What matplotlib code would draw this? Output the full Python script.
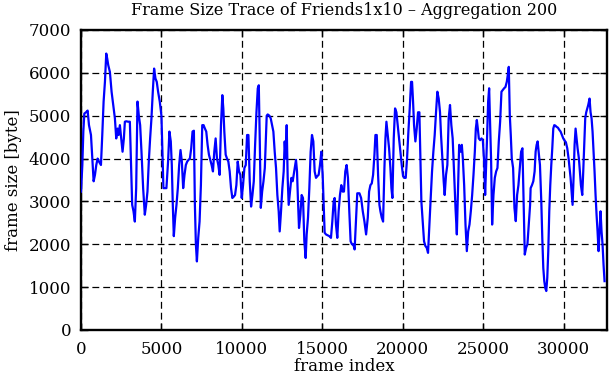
import matplotlib
matplotlib.use("Agg")
import matplotlib.pyplot as plt

frame_index = [
    0, 83, 145, 207, 310, 413, 496, 620, 702, 785, 868, 950, 1033, 1116, 1240, 1322, 1405, 1488, 1570, 1632,
    1694, 1797, 1901, 2004, 2107, 2190, 2273, 2335, 2417, 2500, 2583, 2665, 2727, 2810, 2934, 3037, 3099, 3182,
    3264, 3347, 3430, 3512, 3595, 3677, 3760, 3863, 3967, 4049, 4132, 4215, 4297, 4380, 4463, 4545, 4628, 4710,
    4793, 4896, 5000, 5062, 5124, 5206, 5310, 5413, 5496,
    5582, 5645, 5707, 5770, 5853, 5936, 6019, 6102, 6186, 6269, 6352, 6435, 6518, 6602, 6685, 6768, 6851, 6934,
    7018, 7080, 7142, 7205, 7288, 7371, 7454, 7538, 7621, 7704, 7787, 7870, 7954, 8037, 8120, 8203, 8286, 8370,
    8453, 8536, 8619, 8702, 8786, 8848, 8910, 8994, 9077, 9160, 9243, 9326, 9410, 9493, 9576, 9659, 9742, 9826,
    9909, 9992, 10075, 10158, 10242, 10325, 10408, 10491, 10574, 10658, 10741, 10824, 10907, 10990, 11053, 11115,
    11178, 11261, 11344, 11427,
    11462, 11545, 11607, 11710, 11793, 11876, 11959, 12042, 12124, 12207, 12290, 12352, 12435, 12518, 12600,
    12663, 12725, 12787, 12849, 12911, 12994, 13077, 13160, 13222, 13284, 13366, 13429, 13491, 13553, 13636,
    13718, 13801, 13884, 13967, 14029, 14112, 14195, 14277, 14360, 14443, 14526, 14609, 14691, 14774, 14857,
    14940, 15023, 15085, 15147, 15230, 15333, 15437, 15540, 15623, 15706, 15768, 15851, 15933, 16016, 16099,
    16182, 16265, 16347, 16430, 16513, 16596, 16679, 16761, 16844, 16927, 17010, 17093, 17175, 17279,
    17310, 17414, 17517, 17621, 17724, 17828, 17910, 17993, 18076, 18159, 18242, 18304, 18386, 18469, 18552,
    18614, 18697, 18780, 18863, 18925, 18987, 19070, 19152, 19235, 19297, 19359, 19442, 19525, 19608, 19691,
    19773, 19856, 19939, 20022, 20105, 20187, 20270, 20353, 20436, 20519, 20581, 20643, 20705, 20788, 20870,
    20953, 21036, 21098, 21160, 21243, 21326, 21409, 21491, 21574, 21657, 21740, 21823, 21905, 21988, 22071,
    22154, 22237, 22319, 22382, 22464, 22547, 22609, 22692, 22775, 22858, 22940, 23023, 23106, 23189,
    23282, 23365, 23427, 23510, 23593, 23675, 23738, 23820, 23903, 23986, 24069, 24152, 24234, 24317, 24400,
    24483, 24545, 24607, 24669, 24731, 24814, 24897, 24980, 25062, 25124, 25187, 25249, 25311, 25373, 25435,
    25497, 25559, 25642, 25725, 25808, 25890, 25973, 26056, 26139, 26222, 26304, 26387, 26470, 26532, 26594,
    26656, 26718, 26780, 26863, 26946, 27029, 27112, 27194, 27277, 27360, 27443, 27526, 27588, 27671, 27753,
    27836, 27919,
    27952, 28035, 28118, 28200, 28263, 28325, 28387, 28449, 28532, 28615, 28677, 28739, 28801, 28863, 28925,
    28987, 29049, 29111, 29173, 29236, 29298, 29360, 29422, 29484, 29567, 29650, 29732, 29815, 29898, 29981,
    30064, 30146, 30229, 30312, 30374, 30436, 30498, 30560, 30622, 30685, 30747, 30809, 30871, 30954, 31016,
    31078, 31161, 31223, 31285, 31347, 31409, 31471, 31533, 31616, 31678, 31740, 31802, 31864, 31926, 31989,
    32051, 32113, 32175, 32237, 32299, 32361, 32423, 32485, 32548,
]

frame_size = [
    3230, 3850, 4630, 5050, 5080, 5120, 4780, 4550, 4000, 3470, 3620, 3850, 4000, 3930, 3850, 4550, 5330, 5790, 6450, 6330,
    6180, 6020, 5560, 5250, 4940, 4470, 4700, 4550, 4780, 4470, 4160, 4470, 4860, 4870, 4860, 4860, 4000, 2920,
    2770, 2530, 3310, 5330, 5000, 4780, 4160, 3310, 2690, 2920, 3230, 3930, 4470, 4940, 5560, 6100, 5870, 5790,
    5560, 5330, 5000, 4160, 3310, 3310, 3310, 3930, 4630,
    4400, 3850, 2920, 2190, 2620, 2920, 3310, 3850, 4200, 3930, 3310, 3620, 3850, 3930, 3970, 4000, 4240, 4630,
    4650, 2920, 2000, 1600, 2150, 2530, 3380, 4780, 4780, 4700, 4630, 4320, 4090, 3970, 3850, 3700, 4160, 4470,
    4000, 3850, 3620, 4780, 5480, 5170, 4630, 4090, 4000, 3930, 3700, 3310, 3080, 3110, 3150, 3380, 3930, 3700,
    3620, 3080, 3380, 3780, 3850, 4550, 4550, 3470, 2880, 3150, 3470, 4320, 5080, 5640, 5710, 4400,
    2850, 3230, 3470, 3780,
    4160, 5000, 5030, 5000, 4940, 4780, 4630, 4160, 3780, 3150, 2770, 2300, 2770, 3310, 3700,
    4400, 4000, 4780, 3550, 2920, 3230, 3550, 3470, 3620, 3780, 3970, 3700, 3000, 2380, 2690,
    3150, 3080, 2070, 1680, 2230, 2620, 3310, 4160, 4550, 4400, 3700, 3550, 3590, 3620, 3850,
    4160, 3620, 2920, 2270, 2230, 2210, 2190, 2150, 2530, 3000, 3080, 2460, 2150, 2770, 3150,
    3380, 3230, 3230, 3700, 3850, 3550, 2770, 2070, 2000, 2000, 1880, 2530, 3190, 3190,
    3190, 3080, 2770, 2530, 2230, 2620, 3230, 3380, 3420, 3620, 4090, 4550, 4550, 3620, 2920,
    2770, 2620, 2530, 3780, 4470, 4860, 4550, 4240, 3780, 3310, 3080, 4470, 5170, 5080, 4780,
    4470, 4160, 3850, 3590, 3550, 3550, 4000, 4630, 5170, 5790, 5790, 5330, 4780, 4400, 4700,
    5080, 5080, 4000, 3000, 2530, 2070, 1960, 1920, 1800, 2460, 3080, 3700, 4160, 4550, 5080,
    5560, 5400, 5080, 4550, 4000, 3470, 3150, 3620, 3850, 4940, 5250, 4780, 4470, 3700,
    2850, 2230, 3150, 4320, 4160, 4320, 4000, 3380, 2460, 1840, 2300, 2460, 2770, 3150, 3620,
    4160, 4700, 4900, 4700, 4470, 4430, 4470, 4430, 3930, 3150, 3850, 4550, 5330, 5640, 4780,
    3930, 2460, 3150, 3550, 3700, 3780, 4400, 4860, 5560, 5600, 5640, 5670, 5790, 5950, 6140,
    5020, 4550, 4000, 3780, 2850, 2540, 3150, 3380, 3780, 4160, 4240, 2770, 1760, 1920, 2000,
    2460, 2920,
    3310, 3380, 3470, 3700, 4160, 4320, 4400, 4160, 3850, 3000, 2150, 1450, 1140, 980, 910,
    1220, 1840, 2770, 3380, 3850, 4240, 4700, 4780, 4770, 4740, 4720, 4670, 4630, 4550, 4470,
    4420, 4380, 4240, 4000, 3780, 3550, 3230, 2920, 3550, 4320, 4700, 4470, 4240, 4000, 3700,
    3380, 3150, 3700, 4320, 4940, 5080, 5170, 5250, 5400, 5080, 4940, 4630, 4160, 3700, 3150,
    2690, 2300, 1840, 2300, 2770, 2300, 2000, 1530, 1140,
]

x_ticks = [0, 5000, 10000, 15000, 20000, 25000, 30000]
y_ticks = [0, 1000, 2000, 3000, 4000, 5000, 6000, 7000]

plt.rcParams['font.family'] = ['DejaVu Serif']

fig = plt.figure(figsize=(6.11, 3.80), dpi=100)
ax = fig.add_axes([81 / 611, 50 / 380, 526 / 611, 300 / 380])

ax.plot(frame_index, frame_size, color='#0000ff', linewidth=1.6, zorder=3)

ax.set_xlim(0, 32700)
ax.set_ylim(0, 7000)
ax.set_xticks(x_ticks)
ax.set_yticks(y_ticks)
ax.tick_params(direction='in', top=True, right=True, length=5, width=1,
               labelsize=12, colors='black')
ax.tick_params(axis='y', pad=7)
ax.tick_params(axis='x', pad=8)
ax.grid(True, color='black', linestyle=(0, (5.5, 3.2)), linewidth=0.9)
for s in ax.spines.values():
    s.set_linewidth(1.7)
    s.set_color('black')

ax.set_title('Frame Size Trace of Friends1x10 \u2013 Aggregation 200', fontsize=11.5, pad=11)
ax.set_xlabel('frame index', fontsize=12, labelpad=0)
ax.set_ylabel('frame size [byte]', fontsize=12, labelpad=5)

fig.savefig('out.png', dpi=100)
